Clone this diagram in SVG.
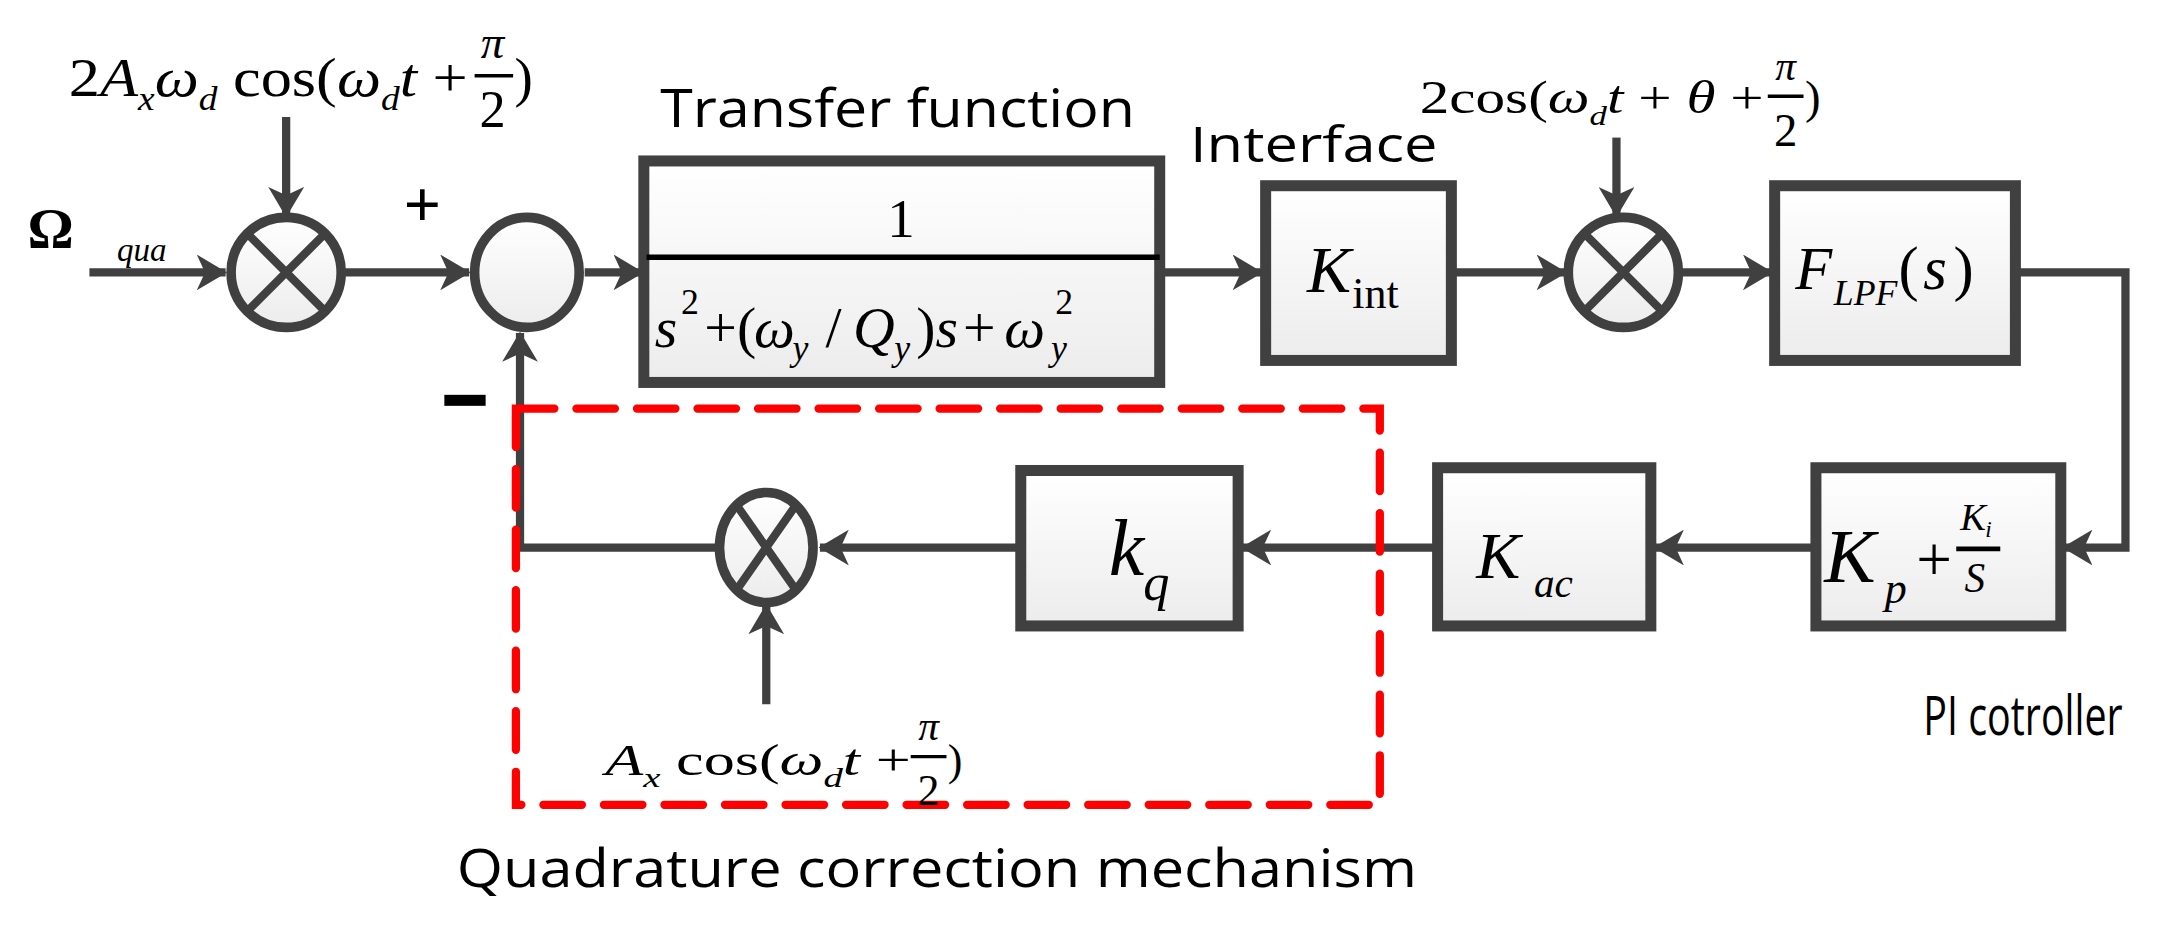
<svg xmlns="http://www.w3.org/2000/svg" width="2157" height="928" viewBox="0 0 2157 928">
<style>
.ln{stroke:#404040;stroke-width:6;fill:none}
.bx{stroke:#404040;stroke-width:8;fill:url(#g)}
.ci{stroke:#404040;stroke-width:7;fill:url(#g)}
.m{font-family:"Liberation Serif",serif;font-style:italic;fill:#000}
.r{font-family:"Liberation Serif",serif;font-style:normal;fill:#000}
.s{font-family:"Open Sans","Liberation Sans",sans-serif;fill:#000}
</style>
<defs>
<linearGradient id="g" x1="0" y1="0" x2="0" y2="1"><stop offset="0" stop-color="#fff"/><stop offset="1" stop-color="#ececec"/></linearGradient>
<marker id="b" markerWidth="22" markerHeight="26" refX="21" refY="13" orient="auto" markerUnits="userSpaceOnUse"><path d="M0,0 L22,13 L0,26 L6,13 Z" fill="#404040"/></marker>
</defs>
<rect width="2157" height="928" fill="#fff"/>
<g transform="scale(1.3757)">
<g id="connectors">
<path class="ln" d="M65,198 H164" marker-end="url(#b)"/>
<path class="ln" d="M208,85 V157" marker-end="url(#b)"/>
<path class="ln" d="M250,198 H341" marker-end="url(#b)"/>
<path class="ln" d="M425,198 H467" marker-end="url(#b)"/>
<path class="ln" d="M843,198 H917" marker-end="url(#b)"/>
<path class="ln" d="M1057,198 H1138" marker-end="url(#b)"/>
<path class="ln" d="M1175,100 V157" marker-end="url(#b)"/>
<path class="ln" d="M1222,198 H1288" marker-end="url(#b)"/>
<path class="ln" d="M1467,198 H1545 V398 H1500" marker-end="url(#b)"/>
<path class="ln" d="M1318,398 H1203" marker-end="url(#b)"/>
<path class="ln" d="M1043,398 H903" marker-end="url(#b)"/>
<path class="ln" d="M740,398 H596" marker-end="url(#b)"/>
<path class="ln" d="M520,398 H378 V242" marker-end="url(#b)"/>
<path class="ln" d="M557,512 V440" marker-end="url(#b)"/>
</g>
<rect id="qcm" x="375" y="297" width="628" height="288" fill="none" stroke="#ff0000" stroke-width="6" stroke-dasharray="28,16" stroke-linecap="round"/>
<g id="mul1"><ellipse class="ci" cx="208" cy="198" rx="40" ry="40"/><path class="ln" d="M180,170 L236,226 M236,170 L180,226"/></g>
<g id="sum"><ellipse class="ci" cx="383" cy="198" rx="38" ry="40"/></g>
<g id="tf"><rect class="bx" x="468" y="117" width="375" height="161"/><line x1="470" y1="187" x2="843" y2="187" stroke="#000" stroke-width="4"/>
<text class="r" x="655" y="172" font-size="40" text-anchor="middle">1</text>
<g font-size="42">
<text class="m" x="476" y="252">s</text><text class="r" x="495" y="228" font-size="26">2</text>
<text class="r" x="512" y="252">+(</text><text class="m" x="548" y="252">ω</text><text class="m" x="576" y="262" font-size="26">y</text>
<text class="r" x="600" y="252">/</text><text class="m" x="620" y="252">Q</text><text class="m" x="650" y="262" font-size="26">y</text>
<text class="r" x="666" y="252">)</text><text class="m" x="680" y="252">s</text><text class="r" x="700" y="252">+</text>
<text class="m" x="730" y="252">ω</text><text class="r" x="767" y="228" font-size="26">2</text><text class="m" x="764" y="262" font-size="26">y</text>
</g></g>
<g id="kint"><rect class="bx" x="920" y="135" width="135" height="127"/><text class="m" x="950" y="212" font-size="48">K</text><text class="r" x="983" y="224" font-size="32">int</text></g>
<g id="mul2"><ellipse class="ci" cx="1180" cy="198" rx="40" ry="40"/><path class="ln" d="M1152,170 L1208,226 M1208,170 L1152,226"/></g>
<g id="lpf"><rect class="bx" x="1290" y="135" width="175" height="127"/><text class="m" x="1305" y="210" font-size="44">F</text><text class="m" x="1333" y="222" font-size="26">LPF</text><text class="r" x="1380" y="210" font-size="44">(</text><text class="m" x="1398" y="210" font-size="44">s</text><text class="r" x="1420" y="210" font-size="44">)</text></g>
<g id="pi"><rect class="bx" x="1320" y="340" width="178" height="115"/><text class="m" x="1326" y="423" font-size="56">K</text><text class="m" x="1370" y="438" font-size="32">p</text><text class="r" x="1393" y="422" font-size="46">+</text>
<text class="m" x="1425" y="385" font-size="28">K</text><text class="m" x="1443" y="390" font-size="17">i</text><line x1="1422" y1="399" x2="1454" y2="399" stroke="#000" stroke-width="3.5"/><text class="m" x="1428" y="430" font-size="30">S</text></g>
<g id="kac"><rect class="bx" x="1045" y="340" width="155" height="115"/><text class="m" x="1073" y="420" font-size="48">K</text><text class="m" x="1115" y="434" font-size="30">ac</text></g>
<g id="kq"><rect class="bx" x="742" y="342" width="158" height="113"/><text class="m" x="806" y="418" font-size="58">k</text><text class="m" x="831" y="436" font-size="38">q</text></g>
<g id="mul3"><ellipse class="ci" cx="557" cy="398" rx="34" ry="40"/><path class="ln" d="M536,368 L578,428 M578,368 L536,428"/></g>
<g id="labels">
<text class="r" x="20" y="180" font-size="42" font-weight="bold">Ω</text><text class="m" x="85" y="190" font-size="24">qua</text>
<text class="r" x="307" y="165" font-size="48" font-weight="bold" text-anchor="middle">+</text>
<rect x="323" y="287" width="30" height="8" fill="#000"/>
<text class="m" x="50" y="70" font-size="40" textLength="290" lengthAdjust="spacingAndGlyphs"><tspan class="r">2</tspan>A<tspan font-size="24" dy="10">x</tspan><tspan dy="-10">ω</tspan><tspan font-size="24" dy="10">d</tspan><tspan class="r" dy="-10"> cos(</tspan>ω<tspan font-size="24" dy="10">d</tspan><tspan dy="-10">t</tspan><tspan class="r"> + </tspan></text>
<text class="m" x="358" y="42" font-size="34" text-anchor="middle">π</text><line x1="345" y1="55" x2="373" y2="55" stroke="#000" stroke-width="2.5"/><text class="r" x="358" y="92" font-size="38" text-anchor="middle">2</text><text class="r" x="374" y="70" font-size="40">)</text>
<text class="s" x="480" y="92" font-size="38" textLength="345" lengthAdjust="spacingAndGlyphs">Transfer function</text>
<text class="s" x="865" y="118" font-size="36" textLength="180" lengthAdjust="spacingAndGlyphs">Interface</text>
<text class="m" x="1032" y="82" font-size="34" textLength="250" lengthAdjust="spacingAndGlyphs"><tspan class="r">2cos(</tspan>ω<tspan font-size="20" dy="9">d</tspan><tspan dy="-9">t</tspan><tspan class="r"> + </tspan>θ<tspan class="r"> + </tspan></text>
<text class="m" x="1298" y="58" font-size="30" text-anchor="middle">π</text><line x1="1285" y1="70" x2="1311" y2="70" stroke="#000" stroke-width="2.5"/><text class="r" x="1298" y="106" font-size="34" text-anchor="middle">2</text><text class="r" x="1312" y="82" font-size="34">)</text>
<text class="m" x="440" y="563" font-size="32" textLength="222" lengthAdjust="spacingAndGlyphs">A<tspan font-size="20" dy="9">x</tspan><tspan class="r" dy="-9"> cos(</tspan>ω<tspan font-size="20" dy="9">d</tspan><tspan dy="-9">t</tspan><tspan class="r"> + </tspan></text>
<text class="m" x="675" y="538" font-size="30" text-anchor="middle">π</text><line x1="662" y1="550" x2="688" y2="550" stroke="#000" stroke-width="2.5"/><text class="r" x="675" y="585" font-size="32" text-anchor="middle">2</text><text class="r" x="689" y="563" font-size="32">)</text>
<text class="s" x="1398" y="534" font-size="40" textLength="145" lengthAdjust="spacingAndGlyphs">PI cotroller</text>
<text class="s" x="332" y="645" font-size="38" textLength="698" lengthAdjust="spacingAndGlyphs">Quadrature correction mechanism</text>
</g>
</g>
</svg>
